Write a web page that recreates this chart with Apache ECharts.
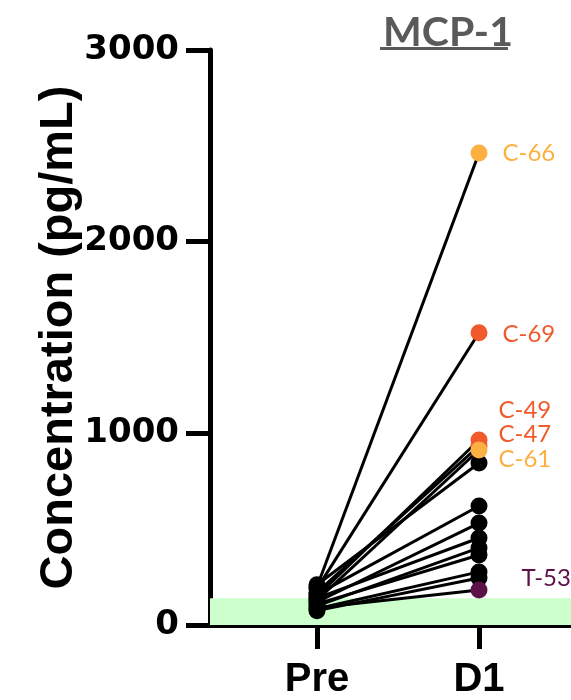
<!DOCTYPE html>
<html>
<head>
<meta charset="utf-8">
<script src="https://cdn.jsdelivr.net/npm/echarts@6/dist/echarts.min.js"></script>
<style>html,body{margin:0;padding:0;background:#fff}#c{width:571px;height:700px}</style>
</head>
<body>
<div id="c"></div>
<script>
// ---- data ----
const categories = ['Pre', 'D1'];
const subjects = ['C-66', 'C-69', 'C-49', 'C-47', 'C-61', '', '', '', '', '', '', '', '', 'T-53'];
const preValues = [200, 190, 150, 170, 130, 210, 160, 120, 140, 100, 110, 85, 75, 90];
const d1Values = [2463, 1525, 965, 934, 913, 845, 621, 532, 454, 402, 365, 277, 245, 183];
const yTicks = [0, 1000, 2000, 3000];
const referenceBand = [0, 140];
const title = 'MCP-1';
const yAxisName = 'Concentration (pg/mL)';

// ---- styles ----
const YELLOW = '#FDB042', ORANGE = '#F15A2B', PURPLE = '#5C1148';
const highlight = {'C-66': YELLOW, 'C-69': ORANGE, 'C-49': ORANGE, 'C-47': ORANGE, 'C-61': YELLOW, 'T-53': PURPLE};
const labelOffset = {'C-66': [0, 0], 'C-69': [0, 2], 'C-49': [-4, -30], 'C-47': [-4, -12], 'C-61': [-4, 9], 'T-53': [19, -12]};

const chart = echarts.init(document.getElementById('c'));
const series = subjects.map((name, i) => {
  const col = highlight[name];
  const d1 = {value: [2, d1Values[i]]};
  if (col) {
    d1.itemStyle = {color: col};
    d1.label = {
      show: true, position: 'right', distance: 15, formatter: name,
      color: col, fontFamily: 'Lato', fontSize: 24, offset: labelOffset[name] || [0, 0]
    };
  }
  return {
    type: 'line', name: name || ('s' + i), clip: false,
    symbol: 'circle', symbolSize: 17,
    lineStyle: {color: '#000', width: 3},
    itemStyle: {color: '#000'},
    label: {show: false},
    z: col ? 5 : 3,
    data: [{value: [1, preValues[i]]}, d1]
  };
});
series.unshift({
  type: 'line', name: 'band', data: [], z: 1,
  markArea: {silent: true, itemStyle: {color: '#CCFFCC'}, data: [[{yAxis: referenceBand[0]}, {yAxis: referenceBand[1]}]]}
});

chart.setOption({
  animation: false,
  title: {text: title, left: 443, top: 7, textAlign: 'center',
    textStyle: {fontFamily: 'Lato', fontWeight: 'bold', fontSize: 41, color: '#5A5A5A'}},
  graphic: [{type: 'rect', shape: {x: 380, y: 47, width: 128, height: 3}, style: {fill: '#5A5A5A'}}],
  grid: {left: 210, right: 0, top: 50, bottom: 75, containLabel: false},
  xAxis: {
    type: 'value', min: 1 - 107 / 162, max: 2 + 92 / 162,
    splitLine: {show: false},
    axisLine: {show: true, lineStyle: {color: '#000', width: 5}},
    axisTick: {show: true, length: 24, lineStyle: {color: '#000', width: 5}, customValues: [1, 2]},
    axisLabel: {customValues: [1, 2], formatter: v => categories[Math.round(v) - 1] || '',
      margin: 35, color: '#000', fontFamily: 'Liberation Sans', fontWeight: 'bold', fontSize: 40}
  },
  yAxis: {
    type: 'value', min: yTicks[0], max: yTicks[yTicks.length - 1], interval: 1000,
    name: yAxisName, nameLocation: 'middle', nameGap: 127, nameMoveOverlap: false,
    nameTextStyle: {fontFamily: 'Liberation Sans', fontWeight: 'bold', fontSize: 47, color: '#000'},
    splitLine: {show: false},
    axisLine: {show: true, lineStyle: {color: '#000', width: 5}},
    axisTick: {show: true, length: 24, lineStyle: {color: '#000', width: 5}},
    axisLabel: {margin: 31, color: '#000', fontFamily: 'DejaVu Sans', fontWeight: 'bold', fontSize: 34,
      formatter: v => String(v)}
  },
  series: series
});
</script>
</body>
</html>
